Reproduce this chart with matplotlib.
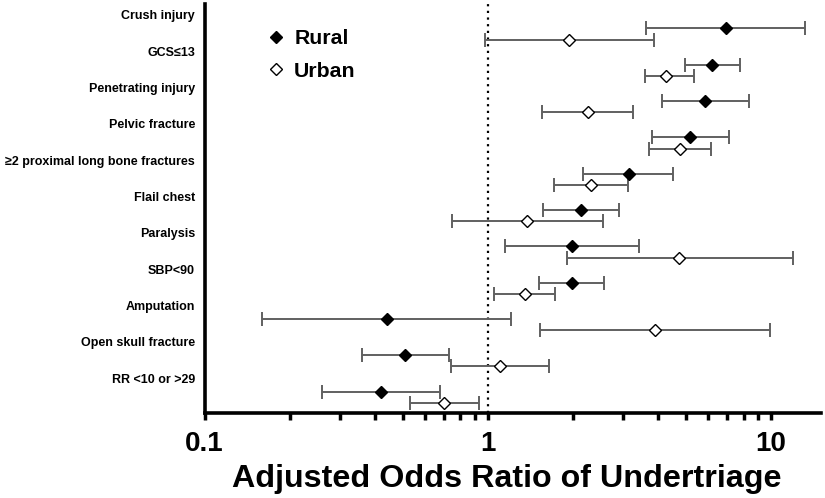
import matplotlib
matplotlib.use("Agg")
import matplotlib.pyplot as plt
from matplotlib.lines import Line2D
from matplotlib.ticker import LogLocator, NullFormatter, FixedLocator, FixedFormatter
import numpy as np

plt.rcParams['font.family'] = ['Liberation Sans', 'DejaVu Sans']
plt.rcParams['font.weight'] = 'bold'

categories = ["Crush injury", "GCS\u226413", "Penetrating injury", "Pelvic fracture",
              "\u22652 proximal long bone fractures", "Flail chest", "Paralysis",
              "SBP<90", "Amputation", "Open skull fracture", "RR <10 or >29"]

rural_or = [6.91, 6.19, 5.87, 5.19, 3.14, 2.13, 1.98, 1.98, 0.44, 0.51, 0.42]
rural_lo = [3.62, 4.95, 4.11, 3.81, 2.16, 1.57, 1.15, 1.52, 0.16, 0.36, 0.26]
rural_hi = [13.2, 7.76, 8.37, 7.08, 4.51, 2.90, 3.41, 2.58, 1.21, 0.73, 0.68]

urban_or = [1.93, 4.26, 2.26, 4.78, 2.32, 1.38, 4.75, 1.35, 3.89, 1.10, 0.70]
urban_lo = [0.98, 3.60, 1.56, 3.71, 1.71, 0.75, 1.90, 1.05, 1.53, 0.74, 0.53]
urban_hi = [3.87, 5.35, 3.25, 6.13, 3.12, 2.56, 11.96, 1.73, 9.89, 1.64, 0.93]

xticks = [0.1, 1, 10]
xtick_labels = ["0.1", "1", "10"]

fig = plt.figure(figsize=(8.25, 4.98), dpi=100)
ax = fig.add_axes([0.248, 0.1707, 0.747, 0.8213])

pos = np.arange(len(categories))
r_pos = pos + 0.37
u_pos = pos + 0.68

rur = np.array(rural_or); urb = np.array(urban_or)
r_err = [rur - np.array(rural_lo), np.array(rural_hi) - rur]
u_err = [urb - np.array(urban_lo), np.array(urban_hi) - urb]

ax.axvline(1, color='black', linestyle=(0, (1, 2)), linewidth=1.6, zorder=1)

ax.errorbar(rur, r_pos, xerr=r_err, fmt='none', ecolor='#606060', elinewidth=1.4,
            capsize=4.8, capthick=1.4, zorder=2)
ax.errorbar(urb, u_pos, xerr=u_err, fmt='none', ecolor='#606060', elinewidth=1.4,
            capsize=4.8, capthick=1.4, zorder=2)
ax.plot(rur, r_pos, linestyle='none', marker='D', markersize=6, color='black', zorder=3)
ax.plot(urb, u_pos, linestyle='none', marker='D', markersize=6, markerfacecolor='white',
        markeredgecolor='black', markeredgewidth=1.0, zorder=3)

ax.set_xscale('log')
ax.set_xlim(0.1, 15)
ax.set_ylim(10.96, -0.30)

ax.xaxis.set_major_locator(FixedLocator(xticks))
ax.xaxis.set_major_formatter(FixedFormatter(xtick_labels))
ax.xaxis.set_minor_locator(LogLocator(base=10, subs=np.arange(2, 10)))
ax.xaxis.set_minor_formatter(NullFormatter())
ax.tick_params(axis='x', which='both', direction='out', length=5, width=2.5, color='black')
ax.tick_params(axis='x', which='major', labelsize=20, pad=8)

ax.set_yticks(pos)
ax.set_yticklabels(categories, fontsize=9.0, fontweight='bold')
ax.tick_params(axis='y', length=0, pad=7)

for s in ['top', 'right']:
    ax.spines[s].set_visible(False)
for s in ['left', 'bottom']:
    ax.spines[s].set_linewidth(2.6)

ax.set_xlabel("Adjusted Odds Ratio of Undertriage", fontsize=23.2, fontweight='bold')
ax.xaxis.set_label_coords(0.49, -0.125)

handles = [Line2D([], [], linestyle='none', marker='D', markersize=6, color='black'),
           Line2D([], [], linestyle='none', marker='D', markersize=6, markerfacecolor='white',
                  markeredgecolor='black', markeredgewidth=1.0)]
ax.legend(handles, ["Rural", "Urban"], loc='upper left', bbox_to_anchor=(257/825, 1 - 21/498),
          bbox_transform=fig.transFigure, frameon=False, handlelength=1.0, handletextpad=0.35,
          borderaxespad=0, labelspacing=0.62, prop={'size': 15.3, 'weight': 'bold'})

fig.savefig("out.png", dpi=100)
